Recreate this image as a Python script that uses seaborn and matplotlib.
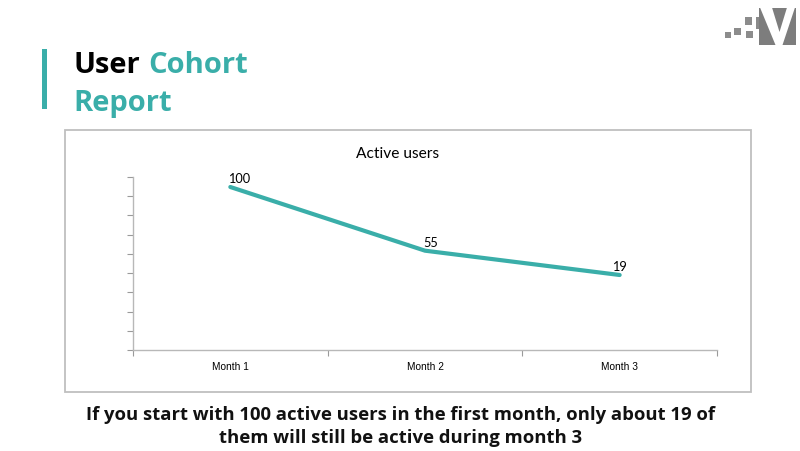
import numpy as np
import pandas as pd
import matplotlib
matplotlib.use("Agg")
import matplotlib.pyplot as plt
from matplotlib.patches import Rectangle, Polygon
from matplotlib.ticker import FixedLocator, NullFormatter
import seaborn as sns

# ---- data ----
months = ["Month 1", "Month 2", "Month 3"]
active_users = [100, 55, 19]
title_black = "User"
title_teal_1 = "Cohort"
title_teal_2 = "Report"
chart_title = "Active users"
caption_1 = "If you start with 100 active users in the first month, only about 19 of"
caption_2 = "them will still be active during month 3"

TEAL = "#3aaea9"
GREY = "#bfbfbf"

sns.set_theme(style="white")
plt.rcParams["font.family"] = ["Lato", "DejaVu Sans"]
HEAD = ["Open Sans", "DejaVu Sans"]

W, H = 800, 452
fig = plt.figure(figsize=(W / 100, H / 100), dpi=100)
fig.patch.set_facecolor("white")

def fx(x):
    return x / W

def fy(y):
    return 1 - y / H

# chart frame
fig.patches.append(Rectangle((fx(65), fy(393)), fx(751) - fx(65), fy(131) - fy(393),
                             transform=fig.transFigure, fill=False, edgecolor=GREY,
                             linewidth=1.3, zorder=0))

# axes
ax = fig.add_axes([fx(133), fy(351), fx(717) - fx(133), fy(178) - fy(351)])
ax.set_facecolor("none")

# value axis drawn on a signed-square scale (matches the reference's spacing)
fwd = lambda v: np.sign(v) * np.abs(v) ** 2
inv = lambda u: np.sign(u) * np.sqrt(np.abs(u))
ax.set_yscale("function", functions=(fwd, inv))

df = pd.DataFrame({"month": months, "users": active_users})
df["pos"] = np.arange(len(months))
sns.lineplot(data=df, x="pos", y="users", ax=ax, color=TEAL, linewidth=3.0,
             solid_capstyle="round", solid_joinstyle="round")

u_lo, u_hi = -7855.0, 11095.0
ax.set_ylim(inv(u_lo), inv(u_hi))
ax.set_xlim(-0.5, len(months) - 0.5)

ax.yaxis.set_major_locator(FixedLocator(inv(np.linspace(u_lo, u_hi, 10))))
ax.yaxis.set_major_formatter(NullFormatter())
ax.yaxis.set_minor_locator(FixedLocator([]))
ax.set_xticks(df["pos"])
ax.set_xticklabels(months, fontsize=7.3, family=["Liberation Sans", "DejaVu Sans"])
ax.set_xticks(np.arange(len(months) + 1) - 0.5, minor=True)
ax.tick_params(axis="x", which="major", length=0, pad=8, colors="black")
ax.tick_params(axis="x", which="minor", length=4, width=0.8, color="#9a9a9a", direction="out",
               bottom=True)
ax.tick_params(axis="y", which="major", length=4, width=0.8, color="#9a9a9a", direction="out",
               left=True)
ax.set_xlabel("")
ax.set_ylabel("")
for s in ["top", "right"]:
    ax.spines[s].set_visible(False)
for s in ["left", "bottom"]:
    ax.spines[s].set_color("#b8b8b8")
    ax.spines[s].set_linewidth(1.0)

for x, v, dx in zip(df["pos"], df["users"], [6, 4, 0]):
    ax.annotate(str(v), (x, v), xytext=(dx, 6.5), textcoords="offset points",
                ha="center", va="center", fontsize=9.2, color="black",
                family=["Lato", "DejaVu Sans"])

fig.text(fx(398), fy(158), chart_title, ha="center", va="baseline", fontsize=11.2, color="black")

# left accent bar
fig.patches.append(Rectangle((fx(42), fy(110)), fx(5), fy(50) - fy(110),
                             transform=fig.transFigure, facecolor=TEAL, edgecolor="none"))

# title
fig.text(fx(73), fy(73), title_black, ha="left", va="baseline", fontsize=21,
         fontweight="bold", color="black", family=HEAD)
fig.text(fx(148), fy(73), title_teal_1, ha="left", va="baseline", fontsize=21,
         fontweight="bold", color=TEAL, family=HEAD)
fig.text(fx(73), fy(111), title_teal_2, ha="left", va="baseline", fontsize=21,
         fontweight="bold", color=TEAL, family=HEAD)

# caption
fig.text(fx(401), fy(420.5), caption_1, ha="center", va="baseline", fontsize=13.3,
         fontweight="bold", color="#111111", family=HEAD)
fig.text(fx(401), fy(443), caption_2, ha="center", va="baseline", fontsize=13.3,
         fontweight="bold", color="#111111", family=HEAD)

# logo
def rect(x0, y0, x1, y1, c):
    fig.patches.append(Rectangle((fx(x0), fy(y1)), fx(x1) - fx(x0), fy(y0) - fy(y1),
                                 transform=fig.transFigure, facecolor=c, edgecolor="none"))

rect(725, 33, 730.5, 38.5, "#8c8c8c")
rect(734, 29, 741, 36, "#8c8c8c")
rect(745, 18, 752, 25.5, "#8c8c8c")
rect(746, 32, 753, 39, "#8c8c8c")
rect(756, 18, 760, 30, "#8a8a8a")
rect(759, 8.5, 796, 46, "#7d7d7d")
vpts = [(760, 8.5), (772, 8.5), (779.5, 33), (787, 8.5), (795, 8.5), (782.5, 46), (775.5, 46)]
fig.patches.append(Polygon([(fx(a), fy(b)) for a, b in vpts], closed=True,
                           transform=fig.transFigure, facecolor="white", edgecolor="none"))

fig.savefig("out.png", dpi=100, facecolor="white")
